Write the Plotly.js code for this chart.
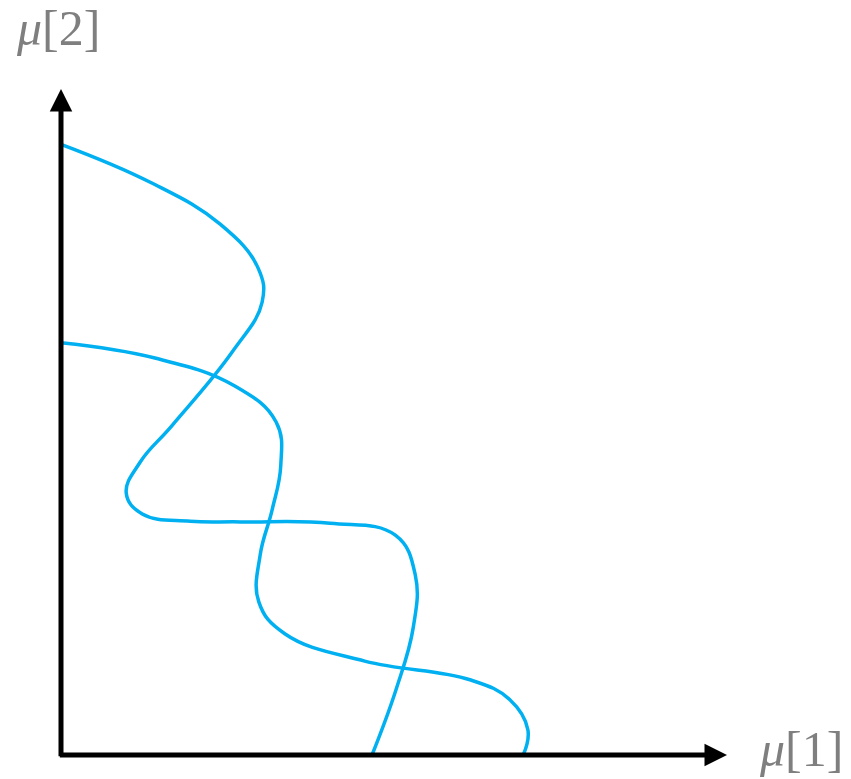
<!DOCTYPE html>
<html>
<head>
<meta charset="utf-8">
<script src="https://cdn.plot.ly/plotly-3.0.1.min.js"></script>
<style>
  html, body { margin: 0; padding: 0; background: #ffffff; }
  #chart { width: 851px; height: 779px; }
</style>
</head>
<body>
<div id="chart"></div>
<script>
// Two curves in the (μ[1], μ[2]) plane, listed in drawing order
const curveAX = [0.00, 1.34, 2.39, 2.96, 3.02, 2.57, 1.67, 1.19, 0.98, 1.22, 1.94, 2.69, 4.04, 5.02, 5.32, 5.29, 5.03, 4.67];
const curveAY = [9.17, 8.60, 7.97, 7.31, 6.80, 6.05, 4.95, 4.40, 3.93, 3.62, 3.51, 3.50, 3.48, 3.30, 2.70, 1.92, 0.98, 0.00];

const curveBX = [0.00, 1.41, 2.61, 3.23, 3.30, 3.17, 2.99, 2.97, 3.36, 4.56, 6.14, 6.74, 7.01, 6.94];
const curveBY = [6.19, 5.96, 5.54, 5.00, 4.35, 3.68, 3.00, 2.30, 1.82, 1.41, 1.13, 0.83, 0.38, 0.00];

const axisLabels = ['<i>μ</i>[1]', '<i>μ</i>[2]'];

const lineStyle = { color: '#00B0F0', width: 3.5, shape: 'spline', smoothing: 1.2 };

const traces = [
  { x: curveAX, y: curveAY, mode: 'lines', line: lineStyle, hoverinfo: 'skip' },
  { x: curveBX, y: curveBY, mode: 'lines', line: lineStyle, hoverinfo: 'skip' }
];

const labelFont = { family: 'Liberation Serif, DejaVu Serif, serif', size: 50, color: '#7F7F7F' };

const layout = {
  width: 851,
  height: 779,
  margin: { l: 61, r: 124, t: 89, b: 24, pad: 0 },
  paper_bgcolor: '#ffffff',
  plot_bgcolor: '#ffffff',
  showlegend: false,
  xaxis: { range: [0, 10], visible: false, fixedrange: true },
  yaxis: { range: [0, 10], visible: false, fixedrange: true },
  annotations: [
    // horizontal axis with arrow head
    { x: 10, y: 0, ax: -0.04, ay: 0, xref: 'x', yref: 'y', axref: 'x', ayref: 'y',
      text: '', showarrow: true, arrowhead: 2, arrowsize: 0.9, arrowwidth: 5, arrowcolor: '#000000' },
    // vertical axis with arrow head
    { x: 0, y: 10, ax: 0, ay: -0.04, xref: 'x', yref: 'y', axref: 'x', ayref: 'y',
      text: '', showarrow: true, arrowhead: 2, arrowsize: 0.9, arrowwidth: 5, arrowcolor: '#000000' },
    { x: 1.111, y: 0.009, xref: 'paper', yref: 'paper', xanchor: 'center', yanchor: 'middle',
      text: axisLabels[0], showarrow: false, font: labelFont },
    { x: -0.004, y: 1.092, xref: 'paper', yref: 'paper', xanchor: 'center', yanchor: 'middle',
      text: axisLabels[1], showarrow: false, font: labelFont }
  ]
};

Plotly.newPlot('chart', traces, layout, { staticPlot: true, displayModeBar: false });
</script>
</body>
</html>
